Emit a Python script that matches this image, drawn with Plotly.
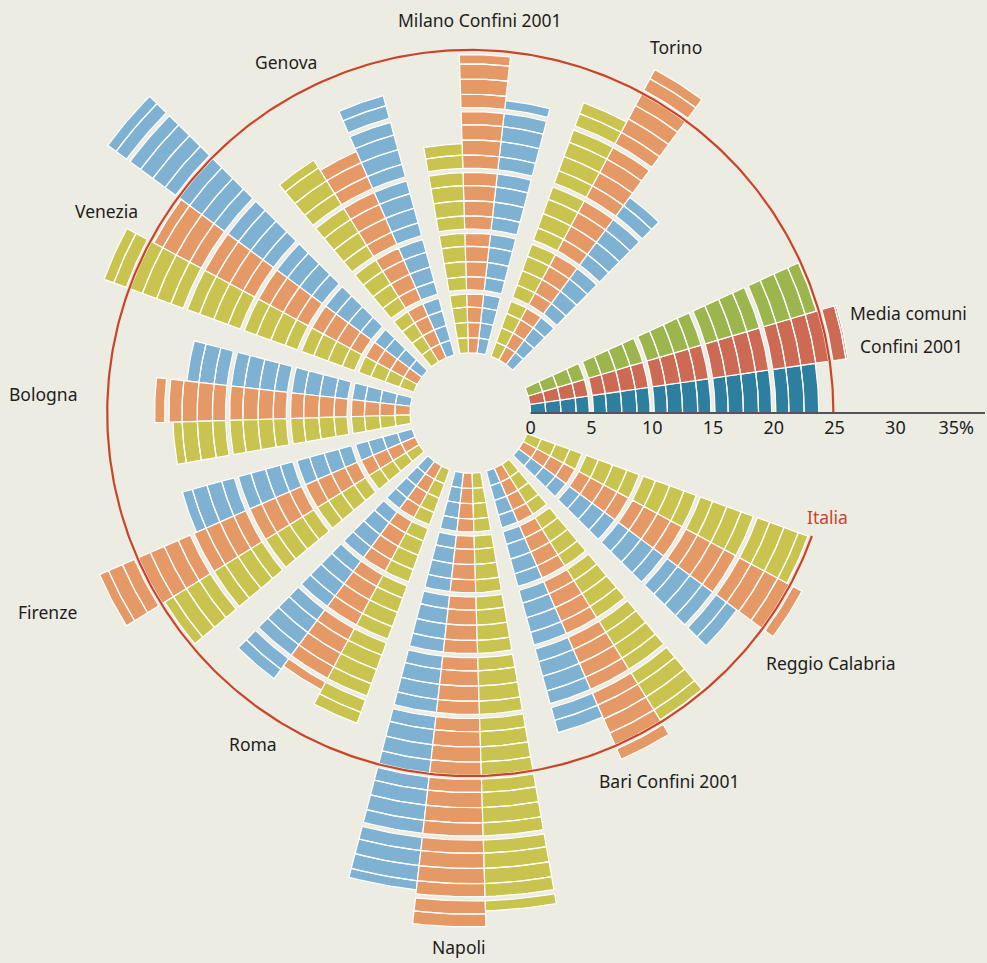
import numpy as np
import plotly.graph_objects as go

# ---------------------------------------------------------------- data
cities = [
    "Media comuni Confini 2001", "Reggio Calabria", "Bari Confini 2001",
    "Napoli", "Roma", "Firenze", "Bologna", "Venezia", "Genova",
    "Milano Confini 2001", "Torino",
]
blue_vals = [23.7, 22.3, 22.3, 34.5, 22.2, 19.6, 18.5, 32.1, 22.1, 20.9, 17.1]
orange_vals = [26.4, 26.0, 26.1, 37.3, 20.9, 28.3, 21.0, 24.6, 18.5, 24.5, 27.1]
yellow_vals = [24.7, 24.6, 24.7, 36.0, 22.2, 24.6, 19.5, 27.1, 19.5, 17.2, 22.2]
italia_val = 24.9
tick_vals = [0, 5, 10, 15, 20, 25, 30, 35]
tick_text = ["0", "5", "10", "15", "20", "25", "30", "35%"]

# ---------------------------------------------------------------- style / geometry
W, H = 987, 963
BG = "#EDECE2"
TXT = "#1E1E1E"
FONT = "Noto Sans"
CITY_COLORS = ["#7EB1D2", "#E59967", "#C9C350"]
MEDIA_COLORS = ["#2E7EA0", "#CC6A53", "#9CB64E"]
ITALIA_COLOR = "#C9452A"
AXIS_COLOR = "#555555"

CX, CY = 470.3, 413.0        # centre of the rose, px
HOLE_PX = 60.3               # empty inner disc, px
PX_PER_PT = 12.16            # px per percentage point
HOLE = HOLE_PX / PX_PER_PT   # inner disc radius in points
AXIS_END = (985.0 - CX) / PX_PER_PT - HOLE

BAR_W = 8.2                  # angular width of one bar (deg)
GROUP_STEP = 30.0            # spacing between city groups (deg)
FIRST_CITY = -32.35          # centre of the first city group (deg)
MEDIA_CENTER = 12.3          # centre of the average group (deg)

BRICK = 1.25                 # each brick is 1.25 points
BRICKS_PER_BLOCK = 4         # a wider gap every 5 points
GAP = 0.35


def bricks(value):
    out = []
    k = 0
    while k * BRICK < value - 1e-9:
        lo = k * BRICK
        hi = min((k + 1) * BRICK, value)
        if k % BRICKS_PER_BLOCK == 0 and k > 0:
            lo += GAP / 2
        if (k + 1) % BRICKS_PER_BLOCK == 0 and abs(hi - (k + 1) * BRICK) < 1e-9:
            hi -= GAP / 2
        if hi > lo:
            out.append((lo, hi))
        k += 1
    return out


def group_center(i):
    if i == 0:
        return MEDIA_CENTER
    return FIRST_CITY - GROUP_STEP * (i - 1)


def sector(t_center, lo, hi, n=14):
    a = np.radians(np.linspace(t_center - BAR_W / 2, t_center + BAR_W / 2, n))
    r0, r1 = HOLE + lo, HOLE + hi
    xs = np.concatenate([r0 * np.cos(a), r1 * np.cos(a[::-1]), [r0 * np.cos(a[0])]])
    ys = np.concatenate([r0 * np.sin(a), r1 * np.sin(a[::-1]), [r0 * np.sin(a[0])]])
    return xs, ys


fig = go.Figure()

series = [blue_vals, orange_vals, yellow_vals]
for s, vals in enumerate(series):
    for is_media in (True, False):
        xs, ys = [], []
        for i, v in enumerate(vals):
            if (i == 0) != is_media:
                continue
            t = group_center(i) + (s - 1) * BAR_W
            for lo, hi in bricks(v):
                px, py = sector(t, lo, hi)
                xs.extend(px.tolist() + [None])
                ys.extend(py.tolist() + [None])
        col = MEDIA_COLORS[s] if is_media else CITY_COLORS[s]
        fig.add_trace(go.Scatter(
            x=xs, y=ys, mode="lines", fill="toself", fillcolor=col,
            line=dict(color="white", width=1.2),
            showlegend=False, hoverinfo="skip",
        ))

# national reference circle
ca = np.radians(np.linspace(0, 340.2, 400))
fig.add_trace(go.Scatter(
    x=(HOLE + italia_val) * np.cos(ca), y=(HOLE + italia_val) * np.sin(ca),
    mode="lines", line=dict(color=ITALIA_COLOR, width=2.2),
    showlegend=False, hoverinfo="skip",
))

# horizontal percentage scale
fig.add_trace(go.Scatter(
    x=[HOLE + 0, HOLE + AXIS_END], y=[0, 0], mode="lines",
    line=dict(color=AXIS_COLOR, width=2), showlegend=False, hoverinfo="skip",
))
fig.add_trace(go.Scatter(
    x=[HOLE + t for t in tick_vals], y=[-0.6] * len(tick_vals), mode="text",
    text=tick_text, textposition="bottom center",
    textfont=dict(size=18, color=TXT, family=FONT),
    showlegend=False, hoverinfo="skip",
))

fig.update_layout(
    width=W, height=H,
    paper_bgcolor=BG, plot_bgcolor=BG,
    margin=dict(l=0, r=0, t=0, b=0, pad=0),
    font=dict(family=FONT, color=TXT, size=17.5),
    xaxis=dict(range=[-CX / PX_PER_PT, (W - CX) / PX_PER_PT], visible=False,
               fixedrange=True),
    yaxis=dict(range=[-(H - CY) / PX_PER_PT, CY / PX_PER_PT], visible=False,
               fixedrange=True),
)

# group labels (pixel centres)
label_pos = {
    "Milano Confini 2001": (480, 20),
    "Torino": (676, 47),
    "Genova": (286, 62),
    "Venezia": (106, 211),
    "Bologna": (43, 394),
    "Firenze": (47, 612),
    "Roma": (253, 744),
    "Napoli": (459, 947),
    "Bari Confini 2001": (669, 781),
    "Reggio Calabria": (830, 663),
    "Media comuni": (908, 313),
    "Confini 2001": (911, 346),
}
for name, (px, py) in label_pos.items():
    fig.add_annotation(x=px / W, y=1 - py / H, xref="paper", yref="paper",
                       text=name, showarrow=False, xanchor="center", yanchor="middle",
                       font=dict(size=17.5, color=TXT, family=FONT))

fig.add_annotation(x=827 / W, y=1 - 517 / H, xref="paper", yref="paper",
                   text="Italia", showarrow=False, xanchor="center", yanchor="middle",
                   font=dict(size=17.5, color=ITALIA_COLOR, family=FONT))

fig.write_html("out.html")
